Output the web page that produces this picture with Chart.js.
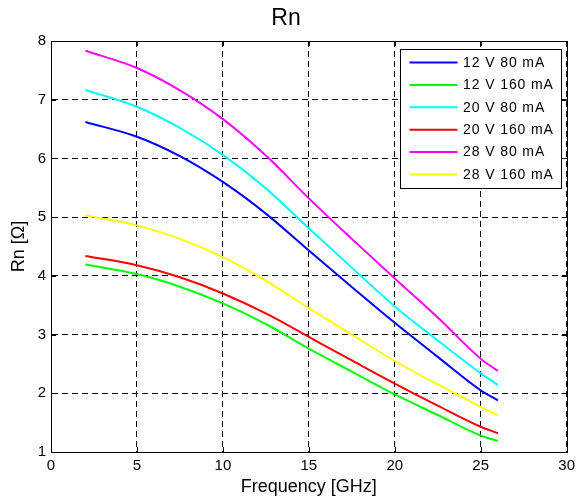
<!DOCTYPE html>
<html>
<head>
<meta charset="utf-8">
<title>Rn</title>
<script src="https://cdn.jsdelivr.net/npm/chart.js@4"></script>
<style>
  html, body { margin: 0; padding: 0; background: #fff; }
  canvas { display: block; }
</style>
</head>
<body>
<canvas id="rnChart" width="580" height="501"></canvas>
<script>
// frequency points in GHz
const freq = [2, 5, 7.5, 10, 12.5, 15, 17.5, 20, 22.5, 25, 26];

// noise resistance Rn [Ohm] per bias point
const rn12V80 = [6.62, 6.37, 6.04, 5.60, 5.06, 4.43, 3.81, 3.2, 2.62, 2.05, 1.88];
const rn12V160 = [4.195, 4.03, 3.815, 3.53, 3.18, 2.76, 2.37, 1.98, 1.63, 1.28, 1.19];
const rn20V80 = [7.165, 6.88, 6.52, 6.06, 5.49, 4.81, 4.14, 3.48, 2.90, 2.34, 2.14];
const rn20V160 = [4.34, 4.18, 3.975, 3.70, 3.36, 2.96, 2.56, 2.165, 1.79, 1.43, 1.32];
const rn28V80 = [7.835, 7.54, 7.16, 6.67, 6.05, 5.32, 4.63, 3.955, 3.29, 2.59, 2.38];
const rn28V160 = [5.03, 4.86, 4.63, 4.32, 3.92, 3.45, 3.00, 2.55, 2.15, 1.77, 1.625];

const seriesLabels = ['12 V 80 mA', '12 V 160 mA', '20 V 80 mA', '20 V 160 mA', '28 V 80 mA', '28 V 160 mA'];
const seriesValues = [rn12V80, rn12V160, rn20V80, rn20V160, rn28V80, rn28V160];
const seriesColors = ['#0000ff', '#00ff00', '#00ffff', '#ff0000', '#ff00ff', '#ffff00'];

const xTicks = [0, 5, 10, 15, 20, 25, 30];
const yTicks = [1, 2, 3, 4, 5, 6, 7, 8];

const FONT = '"Liberation Sans", Arial, Helvetica, sans-serif';

// box around the axes plus short inward tick marks on all four sides
const axesBox = {
  id: 'axesBox',
  afterDraw(chart) {
    const { ctx, chartArea: a, scales } = chart;
    ctx.save();
    ctx.strokeStyle = '#000';
    ctx.lineWidth = 1;
    ctx.strokeRect(Math.round(a.left) + 0.5, Math.round(a.top) + 0.5,
      Math.round(a.right - a.left), Math.round(a.bottom - a.top));
    ctx.beginPath();
    xTicks.forEach(v => {
      const px = Math.round(scales.x.getPixelForValue(v)) + 0.5;
      ctx.moveTo(px, a.bottom); ctx.lineTo(px, a.bottom - 5);
      ctx.moveTo(px, a.top); ctx.lineTo(px, a.top + 5);
    });
    yTicks.forEach(v => {
      const py = Math.round(scales.y.getPixelForValue(v)) + 0.5;
      ctx.moveTo(a.left, py); ctx.lineTo(a.left + 5, py);
      ctx.moveTo(a.right, py); ctx.lineTo(a.right - 5, py);
    });
    ctx.stroke();
    ctx.restore();
  }
};

// legend drawn inside the plot, top right corner
const insideLegend = {
  id: 'insideLegend',
  afterDraw(chart) {
    const { ctx, chartArea: a } = chart;
    const w = 161, h = 139;
    const left = Math.round(a.right - 167) + 0.5;
    const top = Math.round(a.top + 8) + 0.5;
    ctx.save();
    ctx.fillStyle = '#fff';
    ctx.fillRect(left, top, w, h);
    ctx.strokeStyle = '#000';
    ctx.lineWidth = 1;
    ctx.strokeRect(left, top, w, h);
    ctx.font = '14px ' + FONT;
    ctx.letterSpacing = '0.9px';
    ctx.textBaseline = 'middle';
    ctx.textAlign = 'left';
    chart.data.datasets.forEach((ds, i) => {
      const y = top + 13 + i * 22.4;
      ctx.strokeStyle = ds.borderColor;
      ctx.lineWidth = 2;
      ctx.beginPath();
      ctx.moveTo(left + 9, y);
      ctx.lineTo(left + 57, y);
      ctx.stroke();
      ctx.fillStyle = '#000';
      ctx.fillText(ds.label, left + 62.5, y + 0.5);
    });
    ctx.restore();
  }
};

new Chart(document.getElementById('rnChart'), {
  type: 'line',
  data: {
    datasets: seriesValues.map((vals, i) => ({
      label: seriesLabels[i],
      data: freq.map((f, j) => ({ x: f, y: vals[j] })),
      borderColor: seriesColors[i],
      backgroundColor: seriesColors[i],
      borderWidth: 2,
      pointRadius: 0,
      fill: false,
      cubicInterpolationMode: 'monotone'
    }))
  },
  options: {
    responsive: false,
    animation: false,
    devicePixelRatio: 1,
    layout: { padding: { left: 0, right: 8, top: 0, bottom: 0 } },
    plugins: {
      legend: { display: false },
      tooltip: { enabled: false },
      title: {
        display: true,
        text: 'Rn',
        color: '#000',
        font: { family: FONT, size: 23, weight: 'normal' },
        padding: { top: 4.5, bottom: 8.9 }
      }
    },
    scales: {
      x: {
        type: 'linear',
        min: 0,
        max: 30,
        afterFit(scale) { scale.height = 49; },
        afterBuildTicks(scale) { scale.ticks = xTicks.map(v => ({ value: v })); },
        ticks: { color: '#000', font: { family: FONT, size: 15 }, padding: 5, maxRotation: 0 },
        grid: { color: '#000', lineWidth: 1, drawTicks: false },
        border: { display: true, color: '#000', dash: [6, 4] },
        title: {
          display: true,
          text: 'Frequency [GHz]',
          color: '#000',
          font: { family: FONT, size: 18 },
          padding: { top: 0, bottom: 3 }
        }
      },
      y: {
        type: 'linear',
        min: 1,
        max: 8,
        afterFit(scale) { scale.width = 51; },
        afterBuildTicks(scale) { scale.ticks = yTicks.map(v => ({ value: v })); },
        ticks: { color: '#000', font: { family: FONT, size: 15 }, padding: 5 },
        grid: { color: '#000', lineWidth: 1, drawTicks: false },
        border: { display: true, color: '#000', dash: [6, 4] },
        title: {
          display: true,
          text: 'Rn [Ω]',
          color: '#000',
          font: { family: FONT, size: 18 },
          padding: { top: 8, bottom: 0 }
        }
      }
    }
  },
  plugins: [axesBox, insideLegend]
});
</script>
</body>
</html>
